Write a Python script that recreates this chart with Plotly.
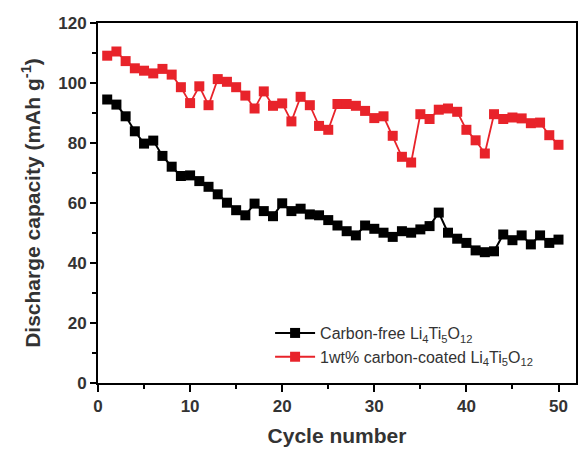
import plotly.graph_objects as go

cycles = list(range(1, 51))
carbon_free = [94.5, 92.8, 88.9, 83.9, 79.8, 80.8, 75.7, 72.1, 69.0, 69.2,
               67.3, 65.4, 62.9, 60.1, 57.6, 55.9, 59.8, 57.3, 55.6, 59.9,
               57.3, 58.1, 56.2, 55.9, 54.3, 52.5, 50.6, 49.2, 52.5, 51.4,
               50.1, 48.7, 50.6, 50.1, 51.2, 52.3, 56.8, 50.1, 48.1, 46.7,
               44.2, 43.6, 43.9, 49.5, 47.6, 49.2, 46.2, 49.2, 46.7, 47.8]
carbon_coated = [109.1, 110.5, 107.3, 104.9, 104.1, 103.2, 104.7, 102.8, 98.6, 93.3,
                 98.9, 92.6, 101.3, 100.4, 98.6, 95.8, 91.5, 97.2, 92.4, 93.2,
                 87.2, 95.4, 92.6, 85.7, 84.4, 93.0, 93.0, 92.4, 90.7, 88.3,
                 88.9, 82.4, 75.4, 73.5, 89.6, 88.0, 91.1, 91.5, 90.4, 84.4,
                 80.9, 76.5, 89.6, 88.0, 88.5, 88.2, 86.6, 86.8, 82.6, 79.4]
names = ["Carbon-free Li<sub>4</sub>Ti<sub>5</sub>O<sub>12</sub>",
         "1wt% carbon-coated Li<sub>4</sub>Ti<sub>5</sub>O<sub>12</sub>"]

fig = go.Figure()
fig.add_trace(go.Scatter(x=cycles, y=carbon_free, mode="lines+markers", name=names[0],
                         line=dict(color="#000000", width=2),
                         marker=dict(symbol="square", size=10, color="#000000")))
fig.add_trace(go.Scatter(x=cycles, y=carbon_coated, mode="lines+markers", name=names[1],
                         line=dict(color="#e8232a", width=1.8),
                         marker=dict(symbol="square", size=10, color="#e8232a")))

axis_font = dict(family="Liberation Sans, Arial", size=17, color="#333333")
fig.update_layout(
    width=578, height=453,
    margin=dict(l=98, r=0, t=23, b=70),
    paper_bgcolor="white", plot_bgcolor="white",
    font=dict(family="Liberation Sans, Arial", color="#333333"),
    showlegend=True,
    legend=dict(x=0.36, y=0.186, xanchor="left", yanchor="top",
                bgcolor="rgba(0,0,0,0)", font=dict(size=16, color="#333333"),
                tracegroupgap=0, itemwidth=40),
    xaxis=dict(range=[0, 51.9], tickvals=[0, 10, 20, 30, 40, 50],
               ticks="outside", ticklen=7, tickwidth=2, tickcolor="#000",
               minor=dict(tickvals=[5, 15, 25, 35, 45], ticks="outside", ticklen=4, tickwidth=2, tickcolor="#000"),
               showline=True, linecolor="#000", linewidth=2, mirror=True,
               showgrid=False, zeroline=False,
               tickfont=dict(axis_font, weight="bold"),
               title=dict(text="<b>Cycle number</b>", font=dict(size=21, color="#333333"), standoff=13)),
    yaxis=dict(range=[0, 120], tickvals=[0, 20, 40, 60, 80, 100, 120],
               ticks="outside", ticklen=6, tickwidth=2, tickcolor="#000",
               minor=dict(tickvals=[10, 30, 50, 70, 90, 110], ticks="outside", ticklen=4, tickwidth=2, tickcolor="#000"),
               showline=True, linecolor="#000", linewidth=2, mirror=True,
               showgrid=False, zeroline=False,
               tickfont=dict(axis_font, weight="bold"),
               title=dict(text="<b>Discharge capacity (mAh g<sup>-1</sup>)</b>", font=dict(size=21, color="#333333"), standoff=12)),
)
fig.write_html("out.html")
